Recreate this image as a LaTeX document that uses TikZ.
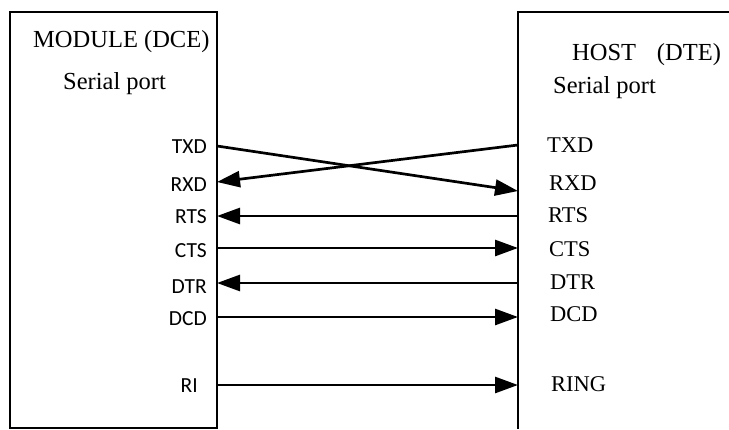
\documentclass[tikz,border=0pt]{standalone}
\usepackage{fontspec}
\setmainfont{Liberation Serif}
\newfontfamily\pinfont{Carlito}
\usetikzlibrary{arrows.meta}

\begin{document}
\begin{tikzpicture}[x=1pt, y=-1pt, line join=miter]
    \tikzstyle{box}=[draw=black, line width=1.4pt]
    \tikzstyle{title}=[inner sep=0pt, anchor=base west, font=\fontsize{24.5}{29}\selectfont]
    \tikzstyle{module pin}=[inner sep=0pt, anchor=base east, font=\pinfont\fontsize{21.5}{25}\selectfont]
    \tikzstyle{host pin}=[inner sep=0pt, anchor=base west, font=\fontsize{22.5}{27}\selectfont]
    \tikzstyle{wire}=[line width=2.7pt, -{Triangle[length=23pt, width=16pt]}]

    \useasboundingbox (0,0) rectangle (729,429);

    % Boxes
    \draw[box] (10,12) rectangle (217,428);
    \draw[box] (729,12) -- (518,12) -- (518,429);

    % Titles
    \node[title] (module) at (33,47.7) {MODULE (DCE)};
    \node[title] (module-port) at (63,89) {Serial port};
    \node[title] (host) at (572,60) {HOST\hspace{0.85em}(DTE)};
    \node[title] (host-port) at (553,93) {Serial port};

    % Module side pins
    \foreach \name/\y in {TXD/153, RXD/191, RTS/223, CTS/257, DTR/293, DCD/325}
        \node[module pin] (m-\name) at (207,\y) {\name};
    \node[module pin] (m-RI) at (198,392) {RI};

    % Host side pins
    \foreach \name/\x/\y in {TXD/547/152.7, RXD/549/190, RTS/548/222.7, CTS/549/256, DTR/550/289, DCD/550/321.7, RING/551/391}
        \node[host pin] (h-\name) at (\x,\y) {\name};

    % Pin ends on the box edges
    \coordinate (mp-TXD) at (217,146);
    \coordinate (mp-RXD) at (217,182);
    \foreach \name/\y in {RTS/216, CTS/248, DTR/283, DCD/317, RI/385}
        \coordinate (mp-\name) at (217,\y);
    \coordinate (hp-TXD) at (518,145);
    \coordinate (hp-RXD) at (518,191);
    \foreach \name/\y in {RTS/216, CTS/248, DTR/283, DCD/317, RING/385}
        \coordinate (hp-\name) at (518,\y);

    % Crossed data lines
    \draw[wire] (mp-TXD) -- (hp-RXD);
    \draw[wire] (hp-TXD) -- (mp-RXD);

    % Handshake lines
    \draw[wire] (hp-RTS) -- (mp-RTS);
    \draw[wire] (mp-CTS) -- (hp-CTS);
    \draw[wire] (hp-DTR) -- (mp-DTR);
    \draw[wire] (mp-DCD) -- (hp-DCD);
    \draw[wire] (mp-RI) -- (hp-RING);
\end{tikzpicture}
\end{document}
